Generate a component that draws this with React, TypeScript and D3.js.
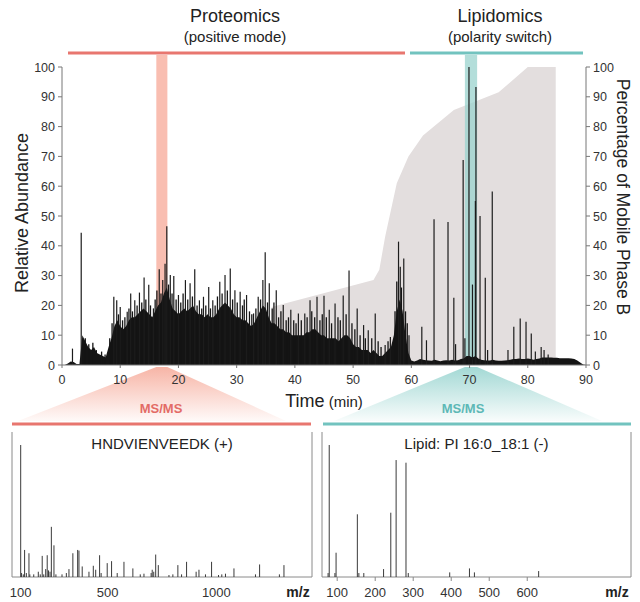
import React from 'react'
import * as d3 from 'd3'

// total ion chromatogram, solid envelope [time (min), relative abundance]
const ticBase: [number, number][] = [
  [0, 0], [0.5, 0], [1, 0.5], [1.5, 1.2], [2, 1], [2.5, 0.3], [3, 0.3], [3.5, 10], [4, 8], [4.5, 6],
  [5, 5], [5.5, 6], [6, 4], [6.5, 3.5], [7, 3], [7.5, 2.5], [8, 6], [8.5, 9], [9, 13], [9.5, 15],
  [10, 13], [10.5, 12], [11, 13], [11.5, 15], [12, 16], [12.5, 16], [13, 17], [13.5, 18], [14, 19], [14.5, 18],
  [15, 17], [15.5, 16], [16, 18], [16.5, 20], [17, 21], [17.5, 24], [18, 26], [18.5, 22], [19, 19], [19.5, 18],
  [20, 17], [20.5, 18], [21, 19], [21.5, 18], [22, 19], [22.5, 20], [23, 18], [23.5, 17], [24, 17], [24.5, 16],
  [25, 17], [25.5, 16], [26, 16], [26.5, 17], [27, 19], [27.5, 20], [28, 21], [28.5, 20], [29, 19], [29.5, 17],
  [30, 16], [30.5, 16], [31, 15], [31.5, 15], [32, 14], [32.5, 13], [33, 14], [33.5, 16], [34, 18], [34.5, 20],
  [35, 19], [35.5, 16], [36, 14], [36.5, 14], [37, 13], [37.5, 12], [38, 12], [38.5, 11], [39, 11], [39.5, 10],
  [40, 10], [40.5, 10], [41, 10], [41.5, 10], [42, 11], [42.5, 11], [43, 12], [43.5, 12], [44, 11], [44.5, 10],
  [45, 10], [45.5, 9], [46, 9], [46.5, 9], [47, 9], [47.5, 8], [48, 9], [48.5, 10], [49, 10], [49.5, 9],
  [50, 7], [50.5, 6], [51, 6], [51.5, 5], [52, 5], [52.5, 5], [53, 4], [53.5, 5], [54, 4], [54.5, 3],
  [55, 3], [55.5, 4], [56, 5], [56.5, 6], [57, 10], [57.5, 18], [58, 22], [58.5, 18], [59, 10], [59.5, 4],
  [60, 1.5], [60.5, 1.2], [61, 1.5], [61.5, 2], [62, 1.8], [62.5, 1.6], [63, 1.5], [63.5, 1.4], [64, 1.8], [64.5, 1.5],
  [65, 1.3], [65.5, 1.5], [66, 1.6], [66.5, 1.5], [67, 1.8], [67.5, 1.5], [68, 1.6], [68.5, 2], [69, 2.2], [69.5, 3],
  [70, 3], [70.5, 2.5], [71, 3], [71.5, 2.2], [72, 1.8], [72.5, 1.6], [73, 1.5], [73.5, 1.5], [74, 1.8], [74.5, 1.5],
  [75, 1.4], [75.5, 1.4], [76, 1.5], [76.5, 1.6], [77, 1.8], [77.5, 2], [78, 2], [78.5, 2.2], [79, 2], [79.5, 2],
  [80, 2.2], [80.5, 2], [81, 1.8], [81.5, 2], [82, 2.2], [82.5, 2.5], [83, 2.5], [83.5, 2.5], [84, 2.5], [84.5, 2.4],
  [85, 2.4], [85.5, 2.3], [86, 2.3], [86.5, 2.3], [87, 2.3], [87.5, 2.2], [88, 2], [88.5, 1.5], [89, 0.8], [89.5, 0.2],
  [90, 0],
]

// sharp peaks on top of the envelope
const ticPeaks: [number, number][] = [
  [1.8, 5.5], [3.3, 44.4],
  [8.9, 22.9], [9.4, 21.7], [10.0, 19.5], [11.2, 17.9], [11.8, 24], [12.5, 21.7], [13.3, 24.3], [14.1, 29.4],
  [14.9, 26.9], [15.7, 19], [16.7, 32.1], [17.3, 28.5], [17.7, 34], [18.0, 46.6], [18.6, 30.2], [19.2, 29.9],
  [20.0, 23.5], [21.2, 28.5], [22.0, 27.4], [22.8, 32.1], [23.6, 21.7], [24.3, 22.9], [25.2, 26.2], [25.9, 21.7],
  [27.1, 27.9], [28.0, 30.2], [28.9, 32.4], [29.7, 25.1], [30.6, 24.6], [31.7, 23.5], [32.9, 17.3], [33.7, 22.9],
  [34.5, 28.5], [34.9, 37.8], [35.6, 27.4], [36.8, 25.1], [38.0, 20.1], [39.3, 18.5], [40.6, 17.3], [41.7, 17.3],
  [42.6, 21.7], [43.8, 22.9], [45.0, 23.2], [45.9, 18.5], [46.9, 20.6], [48.3, 23.3], [49.3, 31.7], [50.7, 19],
  [51.8, 13.4], [52.6, 11.7], [53.8, 17.3], [55.5, 6.7], [56.4, 9.4], [57.8, 41.4], [58.1, 33], [58.7, 35.7],
  [59.6, 10],
  [61.8, 12.8], [62.6, 8.3], [63.9, 48.9], [66.3, 48], [67.3, 22.6], [67.6, 7], [68.9, 68.8], [69.2, 9],
  [69.9, 100], [70.5, 27], [71.0, 55], [71.1, 93.3], [71.8, 50], [72.7, 29.3], [73.1, 5], [73.9, 58.2],
  [76.6, 5], [77.6, 12.8], [78.7, 15.6], [79.7, 14.5], [80.6, 10.6], [81.3, 4.5], [82.3, 6], [82.8, 5], [83.5, 3.5],
]

// smaller hair-like peaks in the peptide region
const ticHair: [number, number][] = [
  [4.0, 9], [4.6, 7], [5.3, 7.5], [5.9, 5], [6.8, 4.5], [7.4, 3.5], [8.2, 9], [8.6, 14], [9.7, 17], [10.4, 15],
  [10.8, 16], [11.5, 19], [12.1, 18], [12.9, 20], [13.7, 21], [14.4, 22], [15.2, 20], [16.0, 22], [16.3, 25],
  [17.0, 24], [18.3, 27], [18.9, 24], [19.6, 22], [20.4, 21], [20.8, 24], [21.6, 22], [22.4, 23], [23.2, 20],
  [24.0, 19], [24.7, 20], [25.5, 19], [26.3, 20], [26.7, 23], [27.5, 24], [28.4, 25], [29.3, 22], [30.1, 21],
  [31.0, 20], [31.3, 22], [32.2, 18], [32.6, 17], [33.3, 19], [34.1, 22], [35.3, 21], [36.1, 19], [36.4, 21],
  [37.2, 16], [37.6, 18], [38.5, 15], [38.9, 16], [39.8, 15], [40.2, 14], [41.1, 15], [42.1, 16], [42.9, 18],
  [43.4, 16], [44.3, 15], [44.7, 17], [45.4, 16], [46.3, 14], [47.4, 16], [47.8, 15], [48.8, 17], [49.8, 14],
  [50.3, 12], [51.2, 10], [52.1, 9], [53.2, 9], [54.3, 8], [54.8, 6], [56.0, 8], [57.2, 18], [57.5, 28],
  [58.3, 26], [59.0, 18], [59.3, 14],
]

// mobile phase B gradient [time, %B]
const phaseB: [number, number][] = [
  [36, 0], [36, 19.5], [53.5, 28.5], [54.5, 32], [55.5, 43], [57.5, 61], [59.5, 70], [62, 77],
  [67.3, 85.6], [75, 91.5], [80, 100], [84.8, 100], [84.8, 0],
]

const timeTicks = [0, 10, 20, 30, 40, 50, 60, 70, 80, 90]
const abundanceTicks = [0, 10, 20, 30, 40, 50, 60, 70, 80, 90, 100]

// MS/MS spectra [m/z, relative intensity]
const peptideSpectrum: [number, number][] = [
  [100, 100], [104, 3], [112, 2], [118, 20.5], [126, 3], [138, 18], [142, 2], [160, 2], [181, 4], [190, 2],
  [199, 16], [206, 2], [215, 6], [222, 16.5], [228, 5], [235, 4], [241, 38], [253, 24], [262, 2], [290, 2],
  [310, 3], [322, 6], [340, 18], [362, 20.5], [368, 20], [383, 8], [414, 4], [434, 8.5], [445, 5.5], [463, 16.5],
  [470, 3], [498, 10.5], [518, 12], [544, 3], [575, 11.5], [616, 6.5], [650, 2], [667, 2.5], [700, 3], [705, 5.5],
  [712, 4], [721, 17], [733, 9], [782, 1.5], [800, 2], [823, 9], [840, 2], [863, 11.5], [907, 4], [920, 5.5],
  [950, 2], [978, 11.5], [1010, 1.5], [1025, 2], [1042, 2.5], [1081, 6.5], [1180, 2], [1199, 9.5], [1290, 2], [1311, 9],
]
const lipidSpectrum: [number, number][] = [
  [76, 3], [79, 100], [94, 3], [97, 18.4], [153, 47.5], [157, 3], [170, 3], [222, 6], [241, 48.7],
  [255, 88.6], [281, 86.6], [287, 3], [396, 3.5], [448, 6.5], [461, 3.5], [630, 4.5],
]
const peptideTicks = [100, 500, 1000]
const lipidTicks = [100, 200, 300, 400, 500, 600]

const FONT = '"Liberation Sans", Arial, Helvetica, sans-serif'
const RED = '#e8766f'
const TEAL = '#72c3bf'

const x = d3.scaleLinear().domain([0, 90]).range([62, 586])
const y = d3.scaleLinear().domain([0, 100]).range([365, 67])

const baseArea = d3.area<[number, number]>()
  .x((d) => x(d[0]))
  .y0(y(0))
  .y1((d) => y(d[1]))
const gradArea = d3.line<[number, number]>()
  .x((d) => x(d[0]))
  .y((d) => y(d[1]))

const Spectrum = ({ data, domain, range, ticks, title, showTicks }: {
  data: [number, number][], domain: [number, number], range: [number, number],
  ticks: number[], title: string, showTicks: boolean
}) => {
  const sx = d3.scaleLinear().domain(domain).range(range)
  const sy = d3.scaleLinear().domain([0, 100]).range([577, 445])
  return (
    <g>
      <line x1={range[0]} x2={range[0]} y1={432} y2={577} stroke="#8a8a8a" />
      <line x1={range[1]} x2={range[1]} y1={432} y2={577} stroke="#8a8a8a" />
      <line x1={range[0]} x2={range[1]} y1={577} y2={577} stroke="#8a8a8a" />
      {data.map((d, i) => (
        <line key={i} x1={sx(d[0])} x2={sx(d[0])} y1={sy(0)} y2={sy(d[1])} stroke="#3a3a3a" strokeWidth={1} />
      ))}
      {ticks.map((t) => (
        <g key={t}>
          {showTicks && <line x1={sx(t)} x2={sx(t)} y1={577} y2={581} stroke="#8a8a8a" />}
          <text x={sx(t)} y={597} textAnchor="middle" fontSize={13} fill="#333">{t}</text>
        </g>
      ))}
      <text x={range[1] - 14} y={597} textAnchor="middle" fontSize={14} fontWeight="bold" fill="#222">m/z</text>
      <text x={(range[0] + range[1]) / 2} y={449} textAnchor="middle" fontSize={15} fill="#222">{title}</text>
    </g>
  )
}

export default function App() {
  const redBand: [number, number] = [16.2, 18.1]
  const tealBand: [number, number] = [69.2, 71.3]
  return (
    <div style={{ position: 'absolute', left: 0, top: 0 }}>
      <svg width={640} height={602} style={{ display: 'block', fontFamily: FONT }}>
        <defs>
          <linearGradient id="redFade" x1="0" y1="0" x2="0" y2="1">
            <stop offset="0%" stopColor="#f5a290" stopOpacity={0.8} />
            <stop offset="100%" stopColor="#f5a290" stopOpacity={0.06} />
          </linearGradient>
          <linearGradient id="tealFade" x1="0" y1="0" x2="0" y2="1">
            <stop offset="0%" stopColor="#8ccfca" stopOpacity={0.8} />
            <stop offset="100%" stopColor="#8ccfca" stopOpacity={0.06} />
          </linearGradient>
        </defs>

        {/* mobile phase B */}
        <path d={gradArea(phaseB) + 'Z'} fill="#e3dede" />

        {/* highlighted retention windows */}
        <rect x={x(redBand[0])} y={55} width={x(redBand[1]) - x(redBand[0])} height={y(0) - 55} fill="#f8b3a3" opacity={0.85} />
        <rect x={x(tealBand[0])} y={55} width={x(tealBand[1]) - x(tealBand[0])} height={y(0) - 55} fill="#9ad3ce" opacity={0.75} />

        {/* chromatogram */}
        <path d={baseArea(ticBase) ?? ''} fill="#141414" />
        {ticHair.map((d, i) => (
          <line key={'h' + i} x1={x(d[0])} x2={x(d[0])} y1={y(0)} y2={y(d[1])} stroke="#141414" strokeWidth={1.3} />
        ))}
        {ticPeaks.map((d, i) => (
          <line key={'p' + i} x1={x(d[0])} x2={x(d[0])} y1={y(0)} y2={y(d[1])} stroke="#1c1c1c" strokeWidth={1.2} />
        ))}

        {/* funnels to the spectra */}
        <path d={`M${x(redBand[0])},367 L${x(redBand[1])},367 L286,421 L18,421 Z`} fill="url(#redFade)" />
        <path d={`M${x(tealBand[0])},367 L${x(tealBand[1])},367 L602,421 L334,421 Z`} fill="url(#tealFade)" />

        {/* axes */}
        <line x1={x(0)} x2={x(0)} y1={y(100)} y2={y(0)} stroke="#777" />
        <line x1={x(90)} x2={x(90)} y1={y(100)} y2={y(0)} stroke="#777" />
        <line x1={x(0)} x2={x(90)} y1={y(0)} y2={y(0)} stroke="#777" />
        {abundanceTicks.map((t) => (
          <g key={'l' + t}>
            <line x1={x(0) - 4} x2={x(0)} y1={y(t)} y2={y(t)} stroke="#777" />
            <text x={x(0) - 7} y={y(t) + 4.5} textAnchor="end" fontSize={12.5} fill="#333">{t}</text>
            <line x1={x(90)} x2={x(90) + 4} y1={y(t)} y2={y(t)} stroke="#777" />
            <text x={x(90) + 7} y={y(t) + 4.5} textAnchor="start" fontSize={12.5} fill="#333">{t}</text>
          </g>
        ))}
        {timeTicks.map((t) => (
          <g key={'x' + t}>
            <line x1={x(t)} x2={x(t)} y1={y(0)} y2={y(0) + 3} stroke="#777" />
            <text x={x(t)} y={384} textAnchor="middle" fontSize={12.5} fill="#333">{t}</text>
          </g>
        ))}

        <text transform="translate(28,213) rotate(-90)" textAnchor="middle" fontSize={18} fill="#222">Relative Abundance</text>
        <text transform="translate(617,197) rotate(90)" textAnchor="middle" fontSize={17.5} fill="#222">Percentage of Mobile Phase B</text>
        <text x={x(45)} y={407} textAnchor="middle" fill="#222">
          <tspan fontSize={18}>Time</tspan>
          <tspan fontSize={15}> (min)</tspan>
        </text>

        {/* top annotations */}
        <line x1={68} x2={405} y1={53} y2={53} stroke={RED} strokeWidth={3} />
        <line x1={410} x2={583} y1={53} y2={53} stroke={TEAL} strokeWidth={3} />
        <text x={235} y={22} textAnchor="middle" fontSize={18} fill="#222">Proteomics</text>
        <text x={235} y={42} textAnchor="middle" fontSize={15} fill="#222">(positive mode)</text>
        <text x={500} y={22} textAnchor="middle" fontSize={18} fill="#222">Lipidomics</text>
        <text x={500} y={42} textAnchor="middle" fontSize={15} fill="#222">(polarity switch)</text>

        <text x={161} y={413} textAnchor="middle" fontSize={13} fontWeight="bold" fill="#e36b66">MS/MS</text>
        <text x={463} y={413} textAnchor="middle" fontSize={13} fontWeight="bold" fill="#5db8b6">MS/MS</text>

        {/* spectra */}
        <line x1={12} x2={311} y1={424} y2={424} stroke={RED} strokeWidth={3} />
        <line x1={323} x2={631} y1={424} y2={424} stroke={TEAL} strokeWidth={3} />
        <Spectrum data={peptideSpectrum} domain={[60, 1440]} range={[12, 312]} ticks={peptideTicks}
          title="HNDVIENVEEDK (+)" showTicks={false} />
        <Spectrum data={lipidSpectrum} domain={[60, 873]} range={[322, 631]} ticks={lipidTicks}
          title="Lipid: PI 16:0_18:1 (-)" showTicks={true} />
      </svg>
    </div>
  )
}
